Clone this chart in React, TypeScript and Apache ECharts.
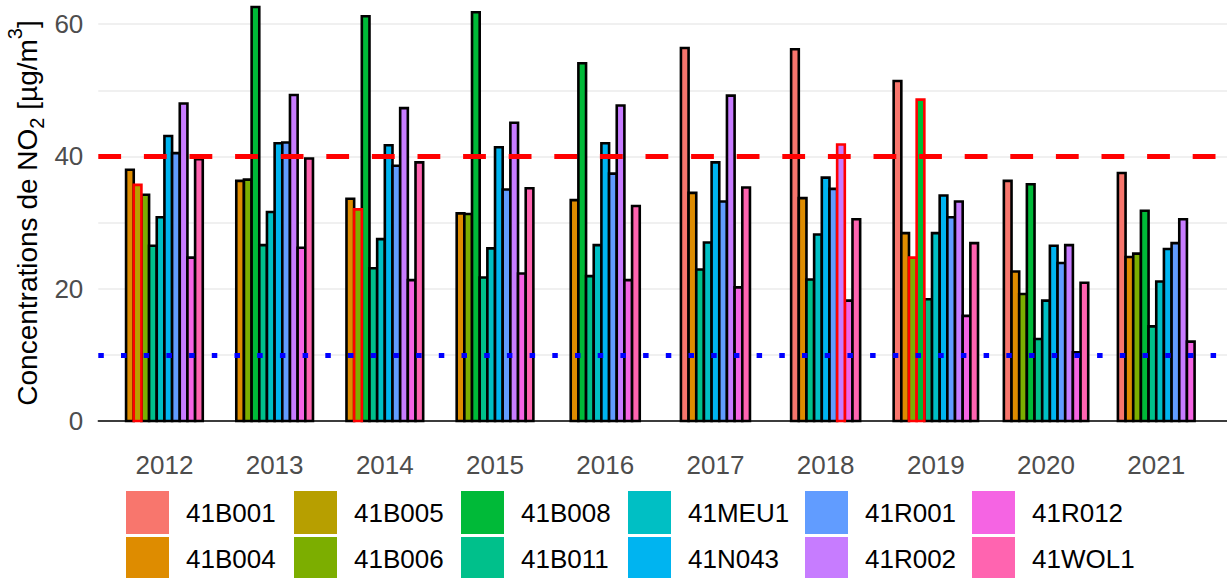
import React, { useEffect, useRef } from 'react';
import * as echarts from 'echarts';

const years = ['2012', '2013', '2014', '2015', '2016', '2017', '2018', '2019', '2020', '2021'];
const stations = ['41B001', '41B004', '41B005', '41B006', '41B008', '41B011', '41MEU1', '41N043', '41R001', '41R002', '41R012', '41WOL1'];
const stationColors = ['#F8766D', '#DE8C00', '#B79F00', '#7CAE00', '#00BA38', '#00C08B', '#00BFC4', '#00B4F0', '#619CFF', '#C77CFF', '#F564E3', '#FF64B0'];

// annual means per station, 2012 .. 2021 (null = no measurement)
const v41B001 = [null, null, null, null, null, 56.4, 56.2, 51.4, 36.3, 37.5];
const v41B004 = [38.0, 36.3, 33.6, 31.4, 33.4, 34.5, 33.7, 28.4, 22.6, 24.8];
const v41B005 = [35.7, null, null, null, null, null, null, null, null, null];
const v41B006 = [34.2, 36.5, 32.0, 31.3, null, null, null, 24.7, 19.2, 25.3];
const v41B008 = [null, 62.6, 61.2, 61.8, 54.1, null, null, 48.6, 35.8, 31.8];
const v41B011 = [26.5, 26.6, 23.1, 21.7, 21.9, 22.9, 21.4, 18.4, 12.4, 14.3];
const v41MEU1 = [30.8, 31.6, 27.5, 26.1, 26.6, 27.0, 28.2, 28.4, 18.2, 21.1];
const v41N043 = [43.1, 42.0, 41.7, 41.4, 42.0, 39.1, 36.8, 34.1, 26.5, 26.0];
const v41R001 = [40.5, 42.1, 38.6, 35.0, 37.4, 33.2, 35.1, 30.8, 23.9, 26.9];
const v41R002 = [48.0, 49.3, 47.3, 45.1, 47.7, 49.2, 41.8, 33.2, 26.6, 30.5];
const v41R012 = [24.7, 26.2, 21.3, 22.3, 21.3, 20.2, 18.2, 15.9, 10.4, 12.0];
const v41WOL1 = [39.6, 39.7, 39.1, 35.2, 32.5, 35.3, 30.5, 26.9, 20.9, null];

// bars drawn with a red outline (station, year)
const redOutlined = [['41B005', '2012'], ['41B006', '2014'], ['41R002', '2018'], ['41B006', '2019'], ['41B008', '2019']];

const yLabels = [0, 20, 40, 60];
const limitLine = 40;
const guideLine = 10;

const legendColumns = [
  ['41B001', '41B004'],
  ['41B005', '41B006'],
  ['41B008', '41B011'],
  ['41MEU1', '41N043'],
  ['41R001', '41R002'],
  ['41R012', '41WOL1'],
];
const legendLefts = [126, 294, 461, 628, 805, 972];

const FONT = '"Liberation Sans", Arial, Helvetica, sans-serif';
const SLOT = 0.0696; // width of one bar, in category units

export default function App() {
  const ref = useRef<HTMLDivElement>(null);
  useEffect(() => {
    const chart = echarts.init(ref.current!, null, { renderer: 'svg' });
    const values = [v41B001, v41B004, v41B005, v41B006, v41B008, v41B011, v41MEU1, v41N043, v41R001, v41R002, v41R012, v41WOL1];
    const present = years.map((_, yi) => stations.map((_, si) => si).filter((si) => values[si][yi] != null));

    const series: any[] = stations.map((name, si) => {
      const data: any[] = [];
      values[si].forEach((v, yi) => {
        if (v == null) return;
        const red = redOutlined.some(([s, y]) => s === name && y === years[yi]) ? 1 : 0;
        data.push([yi, v, red]);
      });
      return {
        type: 'custom',
        name,
        data,
        encode: { x: 0, y: 1 },
        renderItem: (params: any, api: any) => {
          const yi = api.value(0);
          const v = api.value(1);
          const red = api.value(2);
          const list = present[yi];
          const n = list.length;
          const k = list.indexOf(si);
          const base = api.coord([yi, 0]);
          const top = api.coord([yi, v]);
          const w = api.size([SLOT, 0])[0];
          const x0 = base[0] - (n * w) / 2 + k * w;
          return {
            type: 'rect',
            z2: red ? 10 : 1,
            shape: { x: x0, y: top[1], width: w, height: base[1] - top[1] },
            style: { fill: api.visual('color'), stroke: red ? '#FF0000' : '#000000', lineWidth: 2.6 },
          };
        },
      };
    });

    series[0].markLine = {
      silent: true,
      symbol: 'none',
      label: { show: false },
      z: 10,
      data: [
        { yAxis: limitLine, lineStyle: { color: '#FF0000', type: [22.8, 22.8], width: 5 } },
        { yAxis: guideLine, lineStyle: { color: '#0000FF', type: [5.5, 17.2], width: 5 } },
      ],
    };

    const option: any = {
      animation: false,
      color: stationColors,
      textStyle: { fontFamily: FONT },
      grid: { left: 98.3, right: 0, top: 5, bottom: 157, containLabel: false, outerBoundsMode: 'none' },
      xAxis: {
        type: 'value',
        min: -0.6,
        max: 9.642,
        axisLine: { show: true, lineStyle: { color: '#000000', width: 1.5 } },
        axisTick: { show: false },
        splitLine: { show: false },
        axisLabel: {
          customValues: years.map((_, i) => i),
          formatter: (v: number) => years[Math.round(v)] ?? '',
          fontSize: 26,
          color: '#4D4D4D',
          fontFamily: FONT,
          margin: 31,
        },
      },
      yAxis: {
        type: 'value',
        min: 0,
        max: 62.9,
        interval: 10,
        axisLine: { show: false },
        axisTick: { show: false },
        splitLine: { show: true, showMaxLine: false, lineStyle: { color: '#EBEBEB', width: 1.6 } },
        axisLabel: {
          formatter: (v: number) => (yLabels.includes(v) ? String(v) : ''),
          showMaxLabel: false,
          fontSize: 26,
          color: '#4D4D4D',
          fontFamily: FONT,
          margin: 15,
        },
        name: '{a|Concentrations de NO}{s|2}{a| [µg/m}{p|3}{a|]}',
        nameLocation: 'middle',
        nameGap: 56,
        nameMoveOverlap: false,
        nameTextStyle: {
          fontFamily: FONT,
          fontSize: 28,
          color: '#000000',
          rich: {
            a: { fontFamily: FONT, fontSize: 28, lineHeight: 30, color: '#000000' },
            s: { fontFamily: FONT, fontSize: 20, lineHeight: 20, padding: [20, 0, 0, 0], color: '#000000' },
            p: { fontFamily: FONT, fontSize: 20, lineHeight: 20, padding: [0, 0, 24, 0], color: '#000000' },
          },
        },
      },
      legend: legendColumns.map((names, i) => ({
        data: names,
        orient: 'vertical',
        left: legendLefts[i],
        top: 491,
        height: 100,
        padding: 0,
        itemWidth: 43,
        itemHeight: 43,
        itemGap: 3,
        icon: 'rect',
        selectedMode: false,
        itemStyle: { borderWidth: 0 },
        textStyle: { fontSize: 26, color: '#000000', fontFamily: FONT, padding: [0, 0, 0, 12] },
      })),
      series,
    };
    chart.setOption(option);
    return () => chart.dispose();
  }, []);
  return <div ref={ref} style={{ position: 'absolute', left: 0, top: 0, width: 1227, height: 578 }} />;
}
